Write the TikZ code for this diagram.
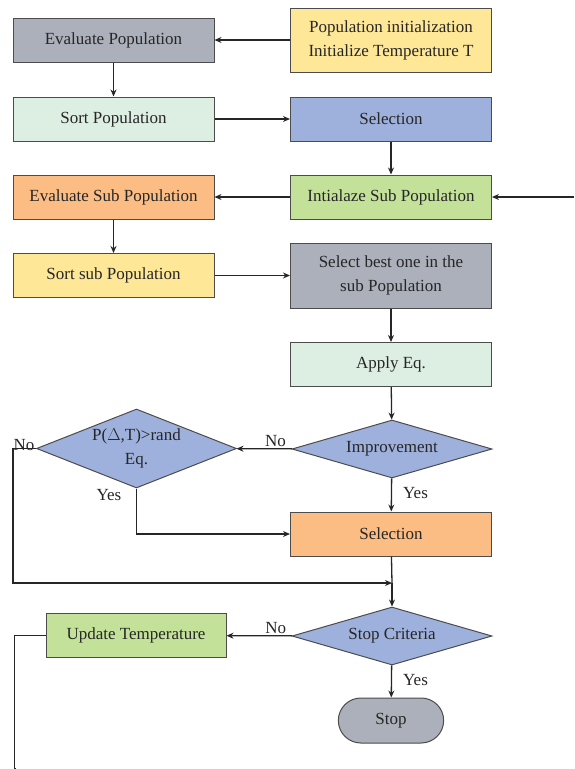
\documentclass[tikz,border=0pt]{standalone}
\usepackage{fontspec}
\setmainfont{Liberation Serif}
\usepackage{tikz}
\usetikzlibrary{positioning}
\usetikzlibrary{calc,shapes.geometric,shapes.misc,arrows,arrows.meta}

\definecolor{evgray}{RGB}{171,176,186}
\definecolor{inityel}{RGB}{254,231,150}
\definecolor{mint}{RGB}{221,238,227}
\definecolor{selblue}{RGB}{158,176,220}
\definecolor{subor}{RGB}{251,189,131}
\definecolor{subgreen}{RGB}{196,225,154}

\begin{document}
\begin{tikzpicture}[x=1pt, y=-1pt, >={Stealth[length=7pt,width=6pt]},
    box/.style={rectangle, draw=black!70, line width=1pt, minimum width=201pt,
      minimum height=44pt, align=center, text=black!85, font=\fontsize{17}{24}\selectfont},
    dec/.style={diamond, draw=black!70, line width=1pt, fill=selblue, inner sep=0pt,
      aspect=3.4, minimum width=200pt, minimum height=58pt, align=center,
      text=black!85, font=\fontsize{17}{24}\selectfont},
    lab/.style={font=\fontsize{17}{20}\selectfont, text=black!85, inner sep=1pt},
    flow/.style={line width=1.3pt, black!85}]
  \useasboundingbox (0,0) rectangle (574,769);

  \node[box, fill=evgray] (evp) at (113.5,40) {Evaluate Population};
  \node[box, fill=inityel, minimum height=64pt] (init) at (391,40)
    {Population initialization\\Initialize Temperature T};
  \node[box, fill=mint] (sortp) at (113.5,119) {Sort Population};
  \node[box, fill=selblue] (sel) at (391,119) {Selection};
  \node[box, fill=subor] (esub) at (113.5,197) {Evaluate Sub Population};
  \node[box, fill=subgreen] (isub) at (391,197) {Intialaze Sub Population};
  \node[box, fill=inityel] (ssub) at (113.5,275.5) {Sort sub Population};
  \node[box, fill=evgray, minimum height=65pt] (best) at (391,275.5)
    {Select best one in the\\sub Population};
  \node[box, fill=mint] (apply) at (391,364.5) {Apply Eq.};
  \node[dec] (impr) at (392,449) {Improvement};
  \node[dec, aspect=2.5, inner sep=-3pt, minimum height=79pt] (prob) at (136.5,448.5)
    {P($\Delta$,T)>rand\\Eq.};
  \node[box, fill=subor] (sel2) at (391,534) {Selection};
  \node[dec] (stopc) at (392,636) {Stop Criteria};
  \node[box, fill=subgreen, minimum width=180pt] (upd) at (136,635.5) {Update Temperature};
  \node[rounded rectangle, draw=black!70, line width=1pt, fill=evgray, text=black!85,
    minimum width=112pt, minimum height=45pt, font=\fontsize{17}{20}\selectfont]
    (stop) at (391,720.5) {Stop};

  \coordinate (back) at (574,197);
  \coordinate (merge) at (392,583);
  \coordinate (down) at (15,769);

  \draw[flow,->] (init) -- (evp);
  \draw[flow,->] (evp) -- (sortp);
  \draw[flow,->] (sortp) -- (sel);
  \draw[flow,->] (sel) -- (isub);
  \draw[flow,->] (back) -- (isub);
  \draw[flow,->] (isub) -- (esub);
  \draw[flow,->] (esub) -- (ssub);
  \draw[flow,->] (ssub) -- (best);
  \draw[flow,->] (best) -- (apply);
  \draw[flow,->] (apply) -- (impr);
  \draw[flow,->] (impr) -- node[lab, above, pos=0.3] {No} (prob);
  \draw[flow,->] (impr) -- node[lab, right=10pt, pos=0.45] {Yes} (sel2);
  \draw[flow,->] (prob.south) |- (sel2);
  \node[lab, anchor=north east] at ([xshift=-14pt]prob.south) {Yes};
  \draw[flow,->] (prob.west) -- ++(-23,0) |- (merge);
  \node[lab, anchor=south] at ([xshift=-12pt, yshift=-3pt]prob.west) {No};
  \draw[flow] (sel2) -- (merge);
  \draw[flow,->] (merge) -- (stopc);
  \draw[flow,->] (stopc) -- node[lab, above, pos=0.25] {No} (upd);
  \draw[flow,->] (stopc) -- node[lab, right=10pt, pos=0.45] {Yes} (stop);
  \draw[flow] (upd.west) -- ++(-31,0) |- (down);
\end{tikzpicture}
\end{document}
